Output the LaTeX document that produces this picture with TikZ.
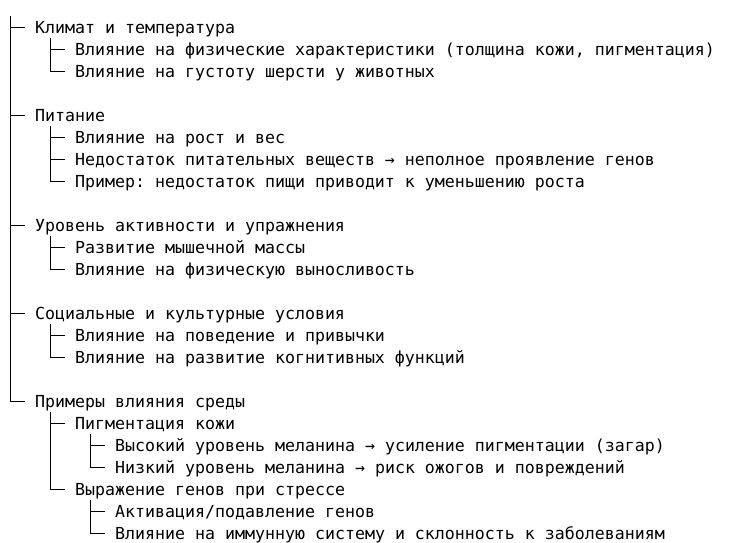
\documentclass[tikz,border=0pt]{standalone}
\usepackage{fontspec}
\setmonofont{DejaVu Sans Mono}
\begin{document}
\begin{tikzpicture}[x=1pt, y=-1pt,
        item/.style = {anchor = west, inner sep = 0pt, text height = 17pt, text depth = 5pt,
                       font = \ttfamily\fontsize{16.6}{22}\selectfont},
        branch/.style = {line width = 1pt}]
                \useasboundingbox (0,0) rectangle (752,542);
                \coordinate (root) at (10,16);
                % climate
                \node[item] (k)  at (35,27)  {Климат и температура};
                \node[item] (k1) at (75,49)  {Влияние на физические характеристики (толщина кожи, пигментация)};
                \node[item] (k2) at (75,71)  {Влияние на густоту шерсти у животных};
                % food
                \node[item] (p)  at (35,115) {Питание};
                \node[item] (p1) at (75,137) {Влияние на рост и вес};
                \node[item] (p2) at (75,159) {Недостаток питательных веществ → неполное проявление генов};
                \node[item] (p3) at (75,181) {Пример: недостаток пищи приводит к уменьшению роста};
                % activity
                \node[item] (u)  at (35,225) {Уровень активности и упражнения};
                \node[item] (u1) at (75,247) {Развитие мышечной массы};
                \node[item] (u2) at (75,269) {Влияние на физическую выносливость};
                % social
                \node[item] (s)  at (35,313) {Социальные и культурные условия};
                \node[item] (s1) at (75,335) {Влияние на поведение и привычки};
                \node[item] (s2) at (75,357) {Влияние на развитие когнитивных функций};
                % examples
                \node[item] (e)   at (35,401)  {Примеры влияния среды};
                \node[item] (e1)  at (75,423)  {Пигментация кожи};
                \node[item] (e11) at (115,445) {Высокий уровень меланина → усиление пигментации (загар)};
                \node[item] (e12) at (115,467) {Низкий уровень меланина → риск ожогов и повреждений};
                \node[item] (e2)  at (75,489)  {Выражение генов при стрессе};
                \node[item] (e21) at (115,511) {Активация/подавление генов};
                \node[item] (e22) at (115,533) {Влияние на иммунную систему и склонность к заболеваниям};
                \begin{scope}[style = branch]
                    \foreach \c in {k, p, u, s, e}
                        \draw (root) |- ([xshift=-10pt]\c.west);
                    \foreach \c in {k1, k2}
                        \draw ([xshift=15pt]k.south west) |- ([xshift=-10pt]\c.west);
                    \foreach \c in {p1, p2, p3}
                        \draw ([xshift=15pt]p.south west) |- ([xshift=-10pt]\c.west);
                    \foreach \c in {u1, u2}
                        \draw ([xshift=15pt]u.south west) |- ([xshift=-10pt]\c.west);
                    \foreach \c in {s1, s2}
                        \draw ([xshift=15pt]s.south west) |- ([xshift=-10pt]\c.west);
                    \foreach \c in {e1, e2}
                        \draw ([xshift=15pt]e.south west) |- ([xshift=-10pt]\c.west);
                    \foreach \c in {e11, e12}
                        \draw ([xshift=15pt]e1.south west) |- ([xshift=-10pt]\c.west);
                    \foreach \c in {e21, e22}
                        \draw ([xshift=15pt]e2.south west) |- ([xshift=-10pt]\c.west);
                \end{scope}
\end{tikzpicture}
\end{document}
